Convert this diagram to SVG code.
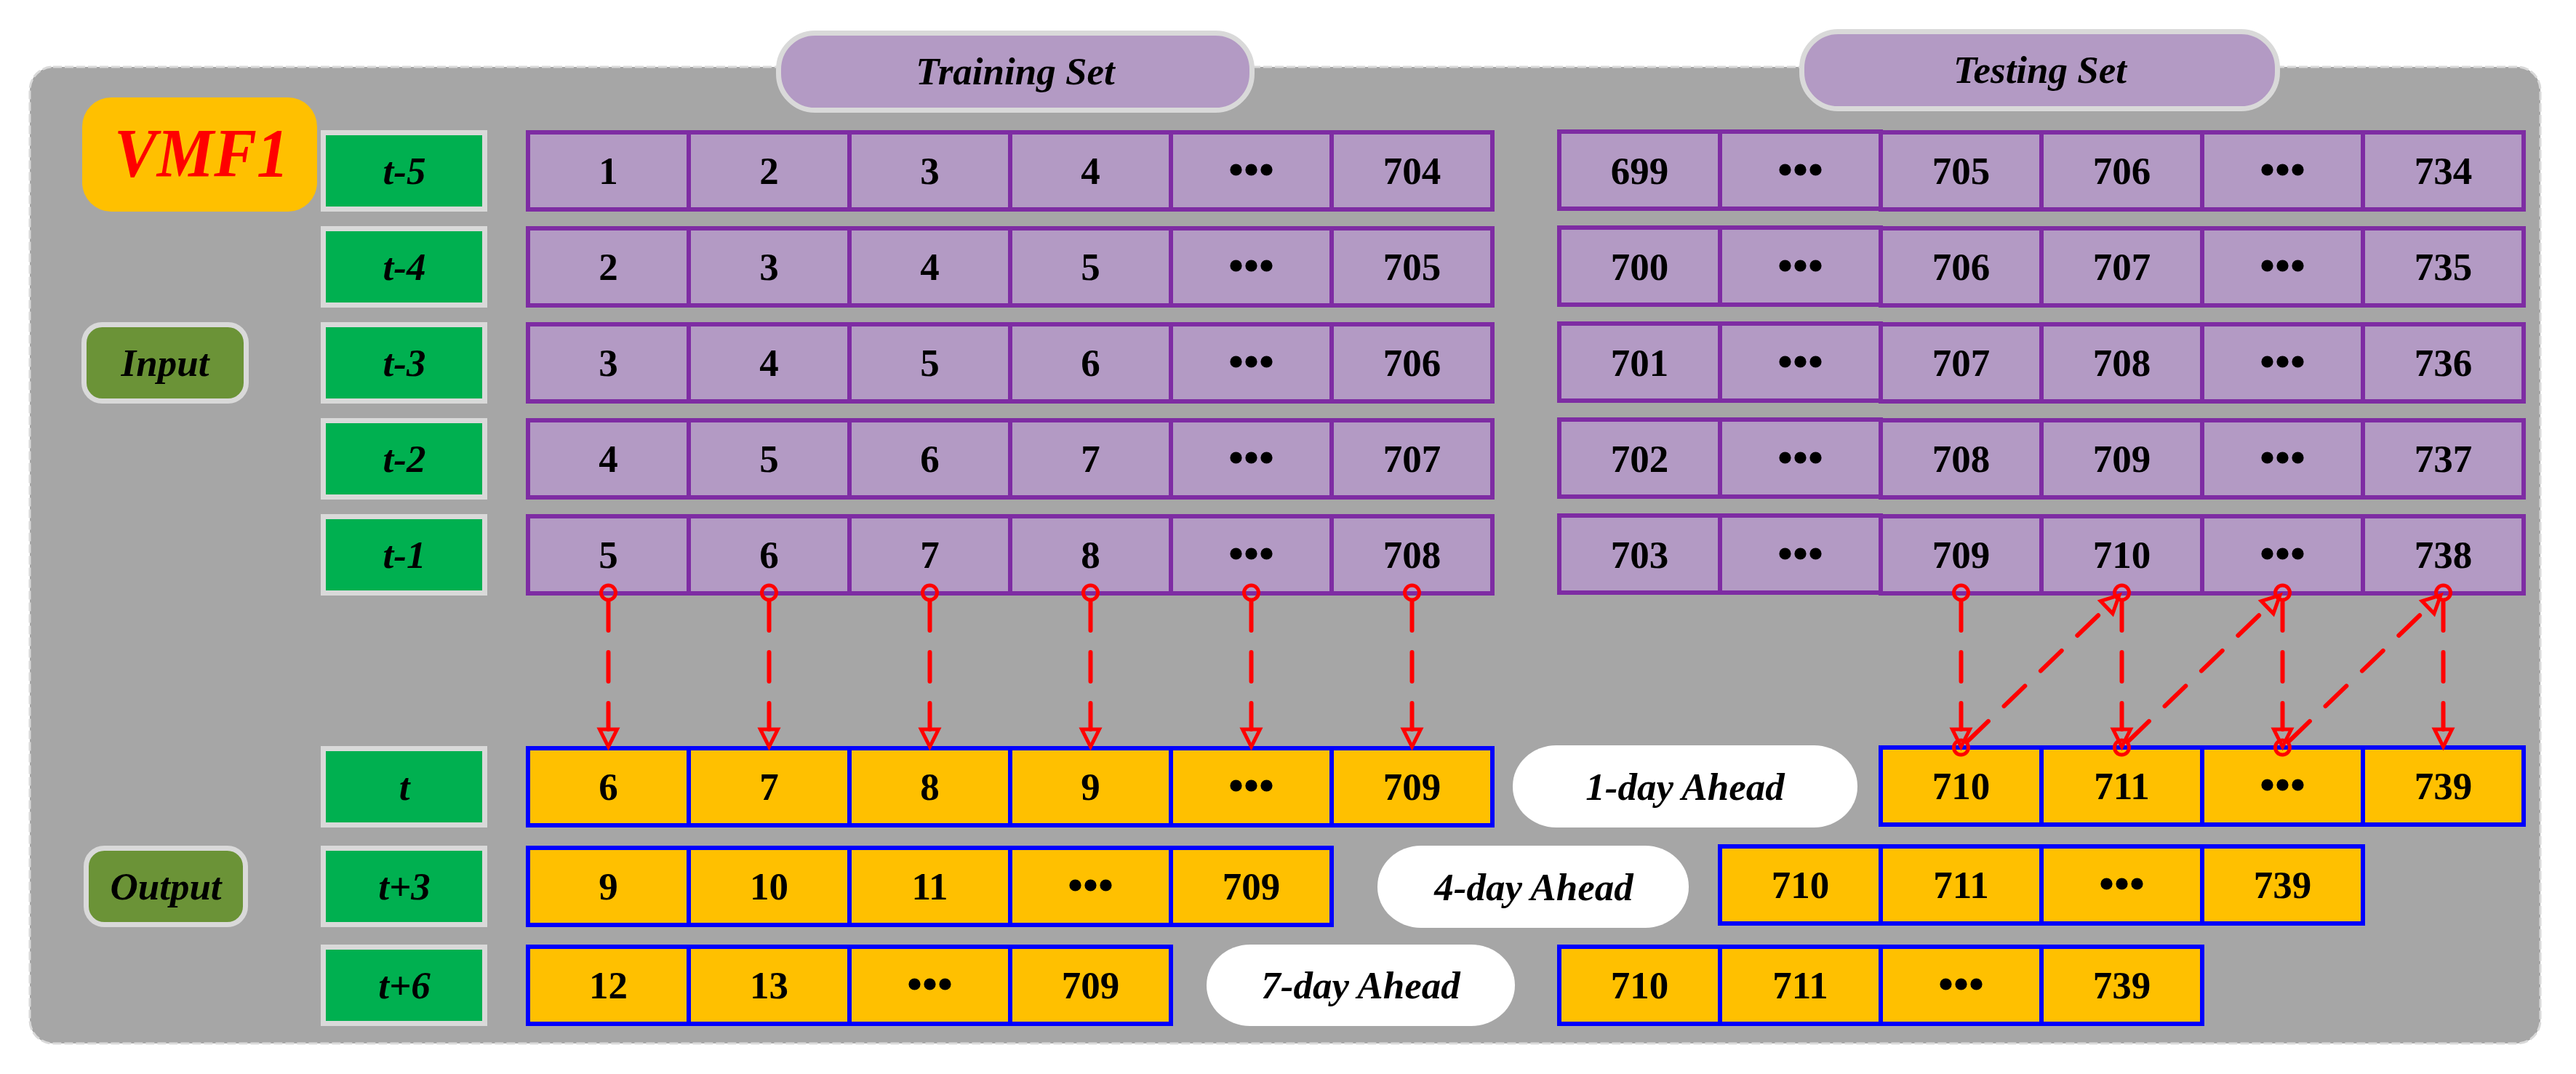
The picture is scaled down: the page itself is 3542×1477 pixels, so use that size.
<svg xmlns="http://www.w3.org/2000/svg" width="3542" height="1477" viewBox="0 0 3542 1477">
<style>
.lbl{fill:#00B050;stroke:#D9D9D9;stroke-width:7}
.pc{fill:#B39AC4;stroke:#7E2CA3;stroke-width:6}
.yc{fill:#FFC000;stroke:#0000FF;stroke-width:6}
.pill{fill:#B39AC4;stroke:#D9D9D9;stroke-width:7}
.olive{fill:#6B9337;stroke:#D9D9D9;stroke-width:7}
.wp{fill:#FFFFFF}
text{font-family:"Liberation Serif","Times New Roman",serif;font-size:53px;font-weight:bold;text-anchor:middle;fill:#000}
.it{font-style:italic}
.el{font-family:"Liberation Serif","Noto Sans CJK SC",serif;font-size:60px}
.con path{fill:none;stroke:#FF0000;stroke-width:6;stroke-linecap:round;stroke-dasharray:40 30;marker-start:url(#dot);marker-end:url(#tri)}
</style>
<defs>
<marker id="dot" markerUnits="userSpaceOnUse" markerWidth="40" markerHeight="40" refX="12" refY="0" orient="auto" overflow="visible">
<circle cx="0" cy="0" r="10" fill="none" stroke="#FF0000" stroke-width="5" stroke-dasharray="none"/>
</marker>
<marker id="tri" markerUnits="userSpaceOnUse" markerWidth="40" markerHeight="40" refX="0" refY="0" orient="auto" overflow="visible">
<path d="M0,-12 L24,0 L0,12 Z" fill="none" stroke="#FF0000" stroke-width="5" stroke-dasharray="none"/>
</marker>
</defs>

<rect id="panel" x="41" y="92" width="3452" height="1343" rx="32" fill="#A6A6A6" stroke="#D9D9D9" stroke-width="3" stroke-dasharray="12 4"/>

<g id="training-set"><rect class="pill" x="1070.5" y="45.5" width="651" height="106" rx="50"/><text class="it" x="1396" y="116">Training Set</text></g>
<g id="testing-set"><rect class="pill" x="2477.5" y="43.5" width="654" height="106" rx="50"/><text class="it" x="2805" y="114">Testing Set</text></g>

<g id="vmf1"><rect x="113" y="134" width="323" height="157" rx="40" fill="#FFC000"/><text class="it" x="277" y="243" style="font-size:96px;fill:#FF0000" textLength="240" lengthAdjust="spacingAndGlyphs">VMF1</text></g>

<g id="input"><rect class="olive" x="115.5" y="446.5" width="223" height="105" rx="25"/><text class="it" x="227" y="517">Input</text></g>
<g id="output"><rect class="olive" x="118.5" y="1166.5" width="219" height="105" rx="25"/><text class="it" x="228" y="1237">Output</text></g>

<g id="lbl-t-5"><rect class="lbl" x="444.5" y="182.5" width="222" height="105"/><text class="it" x="556" y="253">t-5</text></g>
<g id="lbl-t-4"><rect class="lbl" x="444.5" y="314.5" width="222" height="105"/><text class="it" x="556" y="385">t-4</text></g>
<g id="lbl-t-3"><rect class="lbl" x="444.5" y="446.5" width="222" height="105"/><text class="it" x="556" y="517">t-3</text></g>
<g id="lbl-t-2"><rect class="lbl" x="444.5" y="578.5" width="222" height="105"/><text class="it" x="556" y="649">t-2</text></g>
<g id="lbl-t-1"><rect class="lbl" x="444.5" y="710.5" width="222" height="105"/><text class="it" x="556" y="781">t-1</text></g>
<g id="lbl-t"><rect class="lbl" x="444.5" y="1029.5" width="222" height="105"/><text class="it" x="556" y="1100">t</text></g>
<g id="lbl-t3"><rect class="lbl" x="444.5" y="1166.5" width="222" height="105"/><text class="it" x="556" y="1237">t+3</text></g>
<g id="lbl-t6"><rect class="lbl" x="444.5" y="1302.5" width="222" height="105"/><text class="it" x="556" y="1373">t+6</text></g>

<!-- training inputs -->
<g id="train-t-5">
<rect class="pc" x="726" y="182" width="221" height="106"/><rect class="pc" x="947" y="182" width="221" height="106"/><rect class="pc" x="1168" y="182" width="221" height="106"/><rect class="pc" x="1389" y="182" width="221" height="106"/><rect class="pc" x="1610" y="182" width="221" height="106"/><rect class="pc" x="1831" y="182" width="221" height="106"/>
<text x="836.5" y="253">1</text><text x="1057.5" y="253">2</text><text x="1278.5" y="253">3</text><text x="1499.5" y="253">4</text><text class="el" x="1720.5" y="253">•••</text><text x="1941.5" y="253">704</text>
</g>
<g id="train-t-4">
<rect class="pc" x="726" y="314" width="221" height="106"/><rect class="pc" x="947" y="314" width="221" height="106"/><rect class="pc" x="1168" y="314" width="221" height="106"/><rect class="pc" x="1389" y="314" width="221" height="106"/><rect class="pc" x="1610" y="314" width="221" height="106"/><rect class="pc" x="1831" y="314" width="221" height="106"/>
<text x="836.5" y="385">2</text><text x="1057.5" y="385">3</text><text x="1278.5" y="385">4</text><text x="1499.5" y="385">5</text><text class="el" x="1720.5" y="385">•••</text><text x="1941.5" y="385">705</text>
</g>
<g id="train-t-3">
<rect class="pc" x="726" y="446" width="221" height="106"/><rect class="pc" x="947" y="446" width="221" height="106"/><rect class="pc" x="1168" y="446" width="221" height="106"/><rect class="pc" x="1389" y="446" width="221" height="106"/><rect class="pc" x="1610" y="446" width="221" height="106"/><rect class="pc" x="1831" y="446" width="221" height="106"/>
<text x="836.5" y="517">3</text><text x="1057.5" y="517">4</text><text x="1278.5" y="517">5</text><text x="1499.5" y="517">6</text><text class="el" x="1720.5" y="517">•••</text><text x="1941.5" y="517">706</text>
</g>
<g id="train-t-2">
<rect class="pc" x="726" y="578" width="221" height="106"/><rect class="pc" x="947" y="578" width="221" height="106"/><rect class="pc" x="1168" y="578" width="221" height="106"/><rect class="pc" x="1389" y="578" width="221" height="106"/><rect class="pc" x="1610" y="578" width="221" height="106"/><rect class="pc" x="1831" y="578" width="221" height="106"/>
<text x="836.5" y="649">4</text><text x="1057.5" y="649">5</text><text x="1278.5" y="649">6</text><text x="1499.5" y="649">7</text><text class="el" x="1720.5" y="649">•••</text><text x="1941.5" y="649">707</text>
</g>
<g id="train-t-1">
<rect class="pc" x="726" y="710" width="221" height="106"/><rect class="pc" x="947" y="710" width="221" height="106"/><rect class="pc" x="1168" y="710" width="221" height="106"/><rect class="pc" x="1389" y="710" width="221" height="106"/><rect class="pc" x="1610" y="710" width="221" height="106"/><rect class="pc" x="1831" y="710" width="221" height="106"/>
<text x="836.5" y="781">5</text><text x="1057.5" y="781">6</text><text x="1278.5" y="781">7</text><text x="1499.5" y="781">8</text><text class="el" x="1720.5" y="781">•••</text><text x="1941.5" y="781">708</text>
</g>

<!-- testing inputs -->
<g id="test-t-5">
<rect class="pc" x="2144" y="181" width="221" height="106"/><rect class="pc" x="2365" y="181" width="221" height="106"/><rect class="pc" x="2586" y="182" width="221" height="106"/><rect class="pc" x="2807" y="182" width="221" height="106"/><rect class="pc" x="3028" y="182" width="221" height="106"/><rect class="pc" x="3249" y="182" width="221" height="106"/>
<text x="2254.5" y="253">699</text><text class="el" x="2475.5" y="253">•••</text><text x="2696.5" y="253">705</text><text x="2917.5" y="253">706</text><text class="el" x="3138.5" y="253">•••</text><text x="3359.5" y="253">734</text>
</g>
<g id="test-t-4">
<rect class="pc" x="2144" y="313" width="221" height="106"/><rect class="pc" x="2365" y="313" width="221" height="106"/><rect class="pc" x="2586" y="314" width="221" height="106"/><rect class="pc" x="2807" y="314" width="221" height="106"/><rect class="pc" x="3028" y="314" width="221" height="106"/><rect class="pc" x="3249" y="314" width="221" height="106"/>
<text x="2254.5" y="385">700</text><text class="el" x="2475.5" y="385">•••</text><text x="2696.5" y="385">706</text><text x="2917.5" y="385">707</text><text class="el" x="3138.5" y="385">•••</text><text x="3359.5" y="385">735</text>
</g>
<g id="test-t-3">
<rect class="pc" x="2144" y="445" width="221" height="106"/><rect class="pc" x="2365" y="445" width="221" height="106"/><rect class="pc" x="2586" y="446" width="221" height="106"/><rect class="pc" x="2807" y="446" width="221" height="106"/><rect class="pc" x="3028" y="446" width="221" height="106"/><rect class="pc" x="3249" y="446" width="221" height="106"/>
<text x="2254.5" y="517">701</text><text class="el" x="2475.5" y="517">•••</text><text x="2696.5" y="517">707</text><text x="2917.5" y="517">708</text><text class="el" x="3138.5" y="517">•••</text><text x="3359.5" y="517">736</text>
</g>
<g id="test-t-2">
<rect class="pc" x="2144" y="577" width="221" height="106"/><rect class="pc" x="2365" y="577" width="221" height="106"/><rect class="pc" x="2586" y="578" width="221" height="106"/><rect class="pc" x="2807" y="578" width="221" height="106"/><rect class="pc" x="3028" y="578" width="221" height="106"/><rect class="pc" x="3249" y="578" width="221" height="106"/>
<text x="2254.5" y="649">702</text><text class="el" x="2475.5" y="649">•••</text><text x="2696.5" y="649">708</text><text x="2917.5" y="649">709</text><text class="el" x="3138.5" y="649">•••</text><text x="3359.5" y="649">737</text>
</g>
<g id="test-t-1">
<rect class="pc" x="2144" y="709" width="221" height="106"/><rect class="pc" x="2365" y="709" width="221" height="106"/><rect class="pc" x="2586" y="710" width="221" height="106"/><rect class="pc" x="2807" y="710" width="221" height="106"/><rect class="pc" x="3028" y="710" width="221" height="106"/><rect class="pc" x="3249" y="710" width="221" height="106"/>
<text x="2254.5" y="781">703</text><text class="el" x="2475.5" y="781">•••</text><text x="2696.5" y="781">709</text><text x="2917.5" y="781">710</text><text class="el" x="3138.5" y="781">•••</text><text x="3359.5" y="781">738</text>
</g>

<!-- outputs -->
<g id="train-t">
<rect class="yc" x="726" y="1029" width="221" height="106"/><rect class="yc" x="947" y="1029" width="221" height="106"/><rect class="yc" x="1168" y="1029" width="221" height="106"/><rect class="yc" x="1389" y="1029" width="221" height="106"/><rect class="yc" x="1610" y="1029" width="221" height="106"/><rect class="yc" x="1831" y="1029" width="221" height="106"/>
<text x="836.5" y="1100">6</text><text x="1057.5" y="1100">7</text><text x="1278.5" y="1100">8</text><text x="1499.5" y="1100">9</text><text class="el" x="1720.5" y="1100">•••</text><text x="1941.5" y="1100">709</text>
</g>
<g id="day1"><rect class="wp" x="2080" y="1025" width="474" height="113" rx="60" ry="56"/><text class="it" x="2317" y="1100">1-day Ahead</text></g>
<g id="test-t">
<rect class="yc" x="2586" y="1028" width="221" height="106"/><rect class="yc" x="2807" y="1028" width="221" height="106"/><rect class="yc" x="3028" y="1028" width="221" height="106"/><rect class="yc" x="3249" y="1028" width="221" height="106"/>
<text x="2696.5" y="1099">710</text><text x="2917.5" y="1099">711</text><text class="el" x="3138.5" y="1099">•••</text><text x="3359.5" y="1099">739</text>
</g>

<g id="train-t3">
<rect class="yc" x="726" y="1166" width="221" height="106"/><rect class="yc" x="947" y="1166" width="221" height="106"/><rect class="yc" x="1168" y="1166" width="221" height="106"/><rect class="yc" x="1389" y="1166" width="221" height="106"/><rect class="yc" x="1610" y="1166" width="221" height="106"/>
<text x="836.5" y="1237">9</text><text x="1057.5" y="1237">10</text><text x="1278.5" y="1237">11</text><text class="el" x="1499.5" y="1237">•••</text><text x="1720.5" y="1237">709</text>
</g>
<g id="day4"><rect class="wp" x="1894" y="1163" width="428" height="113" rx="60" ry="56"/><text class="it" x="2109" y="1238">4-day Ahead</text></g>
<g id="test-t3">
<rect class="yc" x="2365" y="1164" width="221" height="106"/><rect class="yc" x="2586" y="1164" width="221" height="106"/><rect class="yc" x="2807" y="1164" width="221" height="106"/><rect class="yc" x="3028" y="1164" width="221" height="106"/>
<text x="2475.5" y="1235">710</text><text x="2696.5" y="1235">711</text><text class="el" x="2917.5" y="1235">•••</text><text x="3138.5" y="1235">739</text>
</g>

<g id="train-t6">
<rect class="yc" x="726" y="1302" width="221" height="106"/><rect class="yc" x="947" y="1302" width="221" height="106"/><rect class="yc" x="1168" y="1302" width="221" height="106"/><rect class="yc" x="1389" y="1302" width="221" height="106"/>
<text x="836.5" y="1373">12</text><text x="1057.5" y="1373">13</text><text class="el" x="1278.5" y="1373">•••</text><text x="1499.5" y="1373">709</text>
</g>
<g id="day7"><rect class="wp" x="1659" y="1299" width="424" height="112" rx="60" ry="56"/><text class="it" x="1871" y="1373">7-day Ahead</text></g>
<g id="test-t6">
<rect class="yc" x="2144" y="1302" width="221" height="106"/><rect class="yc" x="2365" y="1302" width="221" height="106"/><rect class="yc" x="2586" y="1302" width="221" height="106"/><rect class="yc" x="2807" y="1302" width="221" height="106"/>
<text x="2254.5" y="1373">710</text><text x="2475.5" y="1373">711</text><text class="el" x="2696.5" y="1373">•••</text><text x="2917.5" y="1373">739</text>
</g>

<g id="connectors" class="con">
<path d="M836.5,827 V1003"/>
<path d="M1057.5,827 V1003"/>
<path d="M1278.5,827 V1003"/>
<path d="M1499.5,827 V1003"/>
<path d="M1720.5,827 V1003"/>
<path d="M1941.5,827 V1003"/>
<path d="M2696.5,827 V1003"/>
<path d="M2917.5,827 V1003"/>
<path d="M3138.5,827 V1003"/>
<path d="M3359.5,827 V1003"/>
<path d="M2705.1,1019.7 L2896.6,835.2"/>
<path d="M2926.1,1019.7 L3117.6,835.2"/>
<path d="M3147.1,1019.7 L3338.6,835.2"/>
</g>
</svg>
